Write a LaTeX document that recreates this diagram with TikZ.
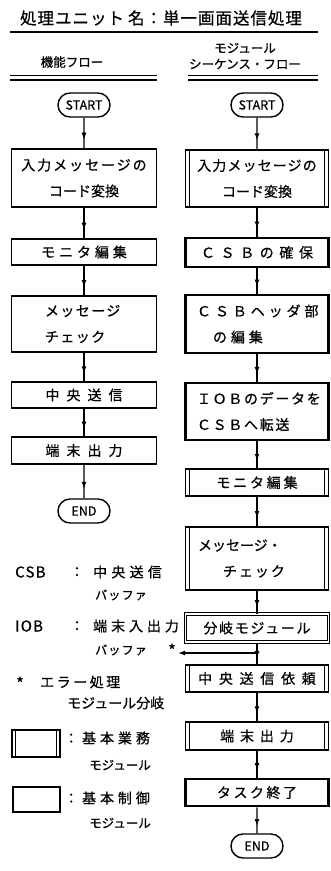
\documentclass[tikz,border=0pt]{standalone}
\usepackage{fontspec}
\setmainfont{Noto Sans CJK JP}
\newfontfamily\jp{Noto Sans CJK JP}[FakeBold=0.7]
\usetikzlibrary{arrows.meta,decorations.markings,shapes.misc}
\newcommand\LS[1]{\addfontfeature{LetterSpace=#1}}
\newcommand\fsz[2]{\fontsize{#1}{#2}\selectfont}
\tikzset{
  txt/.style={inner sep=0pt, align=center, font=\jp\fsz{14}{26}},
  boxb/.style={draw, line width=1.4pt, inner sep=0pt, align=center, font=\jp\fsz{14}{26}, minimum height=#1},
  lbox/.style={boxb=#1, minimum width=145pt},
  rbox/.style={boxb=#1, minimum width=143pt},
  gyomu/.style={path picture={\draw[line width=1.2pt]
      ([xshift=3.8pt]path picture bounding box.north west) -- ([xshift=3.8pt]path picture bounding box.south west)
      ([xshift=-3.8pt]path picture bounding box.north east) -- ([xshift=-3.8pt]path picture bounding box.south east);}},
  seigyo/.style={line width=2.8pt},
  bunki/.style={line width=1pt, double, double distance=1.8pt},
  term/.style={draw, rounded rectangle, line width=1.4pt, minimum width=52pt, minimum height=24pt, inner sep=0pt, font=\jp\fsz{12.5}{14}},
  flow/.style={line width=1.3pt, postaction={decorate}, decoration={markings, mark=at position 0.72 with {\arrow{Latex[length=7pt,width=5pt]}}}},
}
\begin{document}
\begin{tikzpicture}[x=1pt,y=-1pt]
\useasboundingbox (0,0) rectangle (331,871);
% title
\node[txt, font=\jp\fsz{16.5}{18}\LS{6}] (title) at (161,18) {処理ユニット\hspace{4pt}名：単一画面送信処理};
\draw[line width=1.3pt] (10,32) -- (318,32);
% headers
\node[txt, font=\jp\fsz{12.5}{14}] (hL) at (72,62) {機能フロー};
\node[txt, font=\jp\fsz{12.5}{14}] (hR1) at (245,48) {モジュール};
\node[txt, font=\jp\fsz{12.5}{14}] (hR2) at (245,64) {シーケンス・フロー};
\draw[line width=0.9pt] (10,75) -- (157,75) (188,75) -- (318,75);
\draw[line width=2pt] (10,80) -- (157,80) (188,80) -- (318,80);

% left column
\node[term] (Ls) at (84,105) {START};
\node[lbox=58pt] (L1) at (84,178) {\LS{14}入力メッセージの\\コード変換};
\node[lbox=26pt] (L2) at (84,252) {\LS{28}モニタ編集};
\node[lbox=56pt, text width=78pt, align=left] (L3) at (84,324) {\LS{10}メッセージ\\チェック};
\node[lbox=26pt] (L4) at (84,395) {\LS{50}中央送信};
\node[lbox=27pt] (L5) at (84,450.5) {\LS{50}端末出力};
\node[term] (Le) at (84,511) {END};
\draw[flow] (Ls) -- (L1);
\draw[flow] (L1) -- (L2);
\draw[flow] (L2) -- (L3);
\draw[flow] (L3) -- (L4);
\draw[flow] (L4) -- (L5);
\draw[flow] (L5) -- (Le);

% right column
\node[term] (Rs) at (257,105) {START};
\node[rbox=57pt, gyomu] (R1) at (257,178.5) {\LS{8}入力メッセージの\\コード変換};
\node[rbox=29pt, seigyo] (R2) at (257,252.5) {\LS{40}ＣＳＢの確保};
\node[rbox=58pt, seigyo, text width=120pt, align=left] (R3) at (257,324) {\LS{28}ＣＳＢヘッダ部\\\hspace*{16pt}の編集};
\node[rbox=57pt, seigyo, text width=120pt, align=left] (R4) at (257,411.5) {\LS{12}ＩＯＢのデータを\\ＣＳＢへ転送};
\node[rbox=27pt, gyomu] (R5) at (257,482.5) {\LS{20}モニタ編集};
\node[rbox=63pt, gyomu, text width=118pt, align=left] (R6) at (257,558.5) {メッセージ・\\\hspace*{25pt}\LS{14}チェック};
\node[rbox=28pt, bunki] (R7) at (257,628) {\LS{12}分岐モジュール};
\node[rbox=27pt, gyomu] (R8) at (257,678.5) {\LS{48}中央送信依頼};
\node[rbox=28pt, gyomu] (R9) at (257,736) {\LS{42}端末出力};
\node[rbox=27pt, seigyo] (R10) at (257,792.5) {\LS{18}タスク終了};
\node[term] (Re) at (257,846) {END};
\draw[flow] (Rs) -- (R1);
\draw[flow] (R1) -- (R2);
\draw[flow] (R2) -- (R3);
\draw[flow] (R3) -- (R4);
\draw[flow] (R4) -- (R5);
\draw[flow] (R5) -- (R6);
\draw[flow] (R6) -- (R7);
\draw[flow] (R7) -- (R8);
\draw[flow] (R8) -- (R9);
\draw[flow] (R9) -- (R10);
\draw[flow] (R10) -- (Re);
% error branch
\coordinate (err) at (178,653);
\draw[line width=1.3pt, -{Latex[length=7pt,width=5pt]}] (R7.south |- err) -- (err);

% legend
\node[txt, anchor=west, font=\jp\fsz{15}{16}\LS{8}] (csb) at (15,572) {CSB};
\node[txt] (csbc) at (77,572) {：};
\node[txt, anchor=west, font=\jp\fsz{14}{16}\LS{30}] (csbj) at (93,572) {中央送信};
\node[txt, font=\jp\fsz{12}{14}\LS{10}] (csbb) at (121,595) {バッファ};
\node[txt, anchor=west, font=\jp\fsz{15}{16}\LS{8}] (iob) at (15,626) {IOB};
\node[txt] (iobc) at (77,626) {：};
\node[txt, anchor=west, font=\jp\fsz{14}{16}\LS{28}] (iobj) at (93,626) {端末入出力};
\node[txt, font=\jp\fsz{12}{14}\LS{10}] (iobb) at (121,650) {バッファ};
\node[txt, font=\jp\fsz{16}{16}] (ast1) at (172,650) {*};
\node[txt, font=\jp\fsz{16}{16}] (ast2) at (20,683) {*};
\node[txt, anchor=west, font=\jp\fsz{14}{16}\LS{18}] (errt) at (40,682) {エラー処理};
\node[txt, anchor=west, font=\jp\fsz{14}{16}] (errm) at (67,703) {モジュール分岐};
\node[boxb=27pt, minimum width=48pt, gyomu] (lg1) at (36,743.5) {};
\node[txt, anchor=west, font=\jp\fsz{14}{16}\LS{28}] (lg1t) at (64,738) {：基本業務};
\node[txt, font=\jp\fsz{12.5}{14}] (lg1m) at (120,765) {モジュール};
\node[boxb=25pt, minimum width=47pt, seigyo] (lg2) at (36.5,799.5) {};
\node[txt, anchor=west, font=\jp\fsz{14}{16}\LS{28}] (lg2t) at (64,798) {：基本制御};
\node[txt, font=\jp\fsz{12.5}{14}] (lg2m) at (120,823) {モジュール};
\end{tikzpicture}
\end{document}
